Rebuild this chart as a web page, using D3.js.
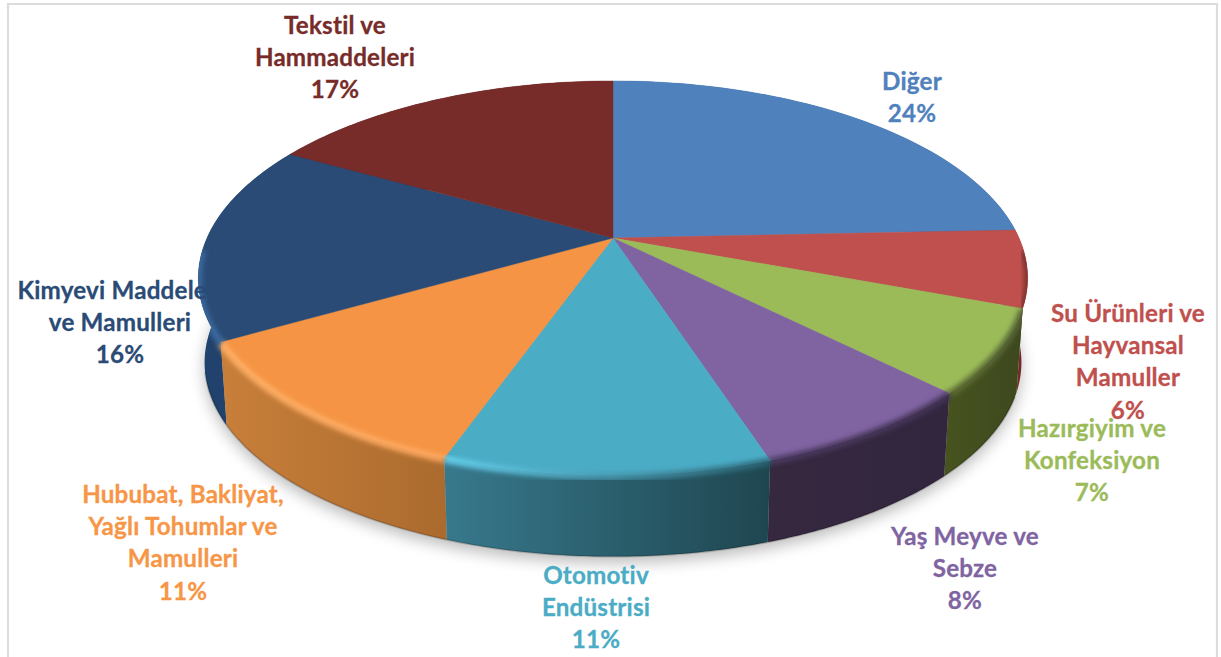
<!DOCTYPE html>
<html><head><meta charset="utf-8">
<script src="https://cdn.jsdelivr.net/npm/d3@7"></script>
<style>html,body{margin:0;padding:0;background:#fff;overflow:hidden}svg{display:block}
text{font-family:Lato,"Open Sans",sans-serif;font-weight:700;font-size:24.2px;letter-spacing:.2px;stroke-width:.3px}</style>
</head><body><svg id="c" width="1221" height="657"></svg>
<script>
const categories = ["Diğer","Su Ürünleri ve Hayvansal Mamuller","Hazırgiyim ve Konfeksiyon","Yaş Meyve ve Sebze","Otomotiv Endüstrisi","Hububat, Bakliyat, Yağlı Tohumlar ve Mamulleri","Kimyevi Maddeler ve Mamulleri","Tekstil ve Hammaddeleri"];
const shares = [24.3,6.3,6.8,7.5,10.5,11.3,16.3,16.9];
const labelLines = [["Diğer"],["Su Ürünleri ve","Hayvansal","Mamuller"],["Hazırgiyim ve","Konfeksiyon"],["Yaş Meyve ve","Sebze"],["Otomotiv","Endüstrisi"],["Hububat, Bakliyat,","Yağlı Tohumlar ve","Mamulleri"],["Kimyevi Maddeleri","ve Mamulleri"],["Tekstil ve","Hammaddeleri"]];

// styling and layout, kept apart from the data
const topColors  = ["#4f81bd","#c0504d","#9bbb59","#8064a2","#4bacc6","#f59444","#2a4b75","#772c2a"];
const textColors = ["#4f81bd","#c0504d","#9bbb59","#8064a2","#4bacc6","#f79646","#2a4b75","#772c2a"];
const wallFrom   = ["#3a5f8c","#7e2f2c","#46531f","#35283f","#37798c","#c87f3a","#21426c","#5a201e"];
const wallTo     = ["#3a5f8c","#6e2725","#3d481e","#32263f","#1f4650","#ab6b2e","#21426c","#5a201e"];
const rimFrom    = ["#4f81bd","#7a302e","#5f6f33","#4b3a61","#66d2f0","#ffb066","#3a6aa0","#772c2a"];
const rimTo      = ["#4f81bd","#7a302e","#59683a","#453558","#2b6474","#ffa860","#3a6aa0","#772c2a"];
const labelX = [912,1128,1092,965,596,183,120,335];
const labelY = [90,322,437,545,584,503,299,34];
const lineGap = 32.2;

const cx=613, cy=238, a=406, b=189, k=0.203, depth=85, shrink=0.015;
const W=1221, H=657;
const sx = d3.scaleLinear().domain([-1,1]).range([cx-a,cx+a]);
const sy = d3.scaleLinear().domain([-1,1]).range([cy-b,cy+b]);
function project(theta,d){
  const u=Math.sin(theta), v=-Math.cos(theta), den=1-k*v, f=1-shrink*d;
  return [cx+(sx(u)-cx)/den*f, cy+(sy(v)-cy)/den*f+depth*d];
}
const svg=d3.select("#c");
const defs=svg.append("defs");
const blur=(id,s)=>defs.append("filter").attr("id",id).attr("x","-20%").attr("y","-20%").attr("width","140%").attr("height","140%").append("feGaussianBlur").attr("stdDeviation",s);
blur("blur8",8); blur("blur3",2.6);

const line=d3.line();
const arcs=d3.pie().value(d=>d).sort(null).startAngle(0).endAngle(2*Math.PI)(shares);
const arcPts=(s,e,d)=>d3.range(0,61).map(i=>project(s+(e-s)*i/60,d));
const wallPath=d=>line(arcPts(d.startAngle,d.endAngle,0).concat(arcPts(d.startAngle,d.endAngle,1).reverse()))+"Z";
const facePath=d=>line([[cx,cy]].concat(arcPts(d.startAngle,d.endAngle,0)))+"Z";

// frame
svg.append("path").attr("d",line([[8,H],[8,4],[1217,4],[1217,H]])).attr("fill","none").attr("stroke","#dcdcdc").attr("stroke-width",2.2);

// soft shadow under the disc
svg.append("path").attr("filter","url(#blur8)").attr("fill","#000").attr("opacity",.28)
  .attr("d",line(arcPts(0,2*Math.PI,1).map(p=>[p[0],p[1]+6]))+"Z");

// gradients
arcs.forEach((d,i)=>{
  const p0=project(d.startAngle,0), p1=project(d.endAngle,0);
  const x1=Math.min(p0[0],p1[0]), x2=Math.max(p0[0],p1[0]);
  const w=defs.append("linearGradient").attr("id","w"+i).attr("gradientUnits","userSpaceOnUse").attr("x1",x1).attr("x2",x2).attr("y1",0).attr("y2",0);
  w.append("stop").attr("offset",0).attr("stop-color",wallFrom[i]);
  w.append("stop").attr("offset",1).attr("stop-color",wallTo[i]);
  const r=defs.append("linearGradient").attr("id","r"+i).attr("gradientUnits","userSpaceOnUse").attr("x1",x1).attr("x2",x2).attr("y1",0).attr("y2",0);
  r.append("stop").attr("offset",0).attr("stop-color",rimFrom[i]);
  r.append("stop").attr("offset",1).attr("stop-color",rimTo[i]);
});

// clip: the disc and its wall, so the blurred bevel never leaves the solid
const clip=defs.append("clipPath").attr("id","solid");
arcs.forEach(d=>{clip.append("path").attr("d",wallPath(d));clip.append("path").attr("d",facePath(d));});

// walls, back to front
const order=arcs.slice().sort((p,q)=>Math.cos((q.startAngle+q.endAngle)/2)-Math.cos((p.startAngle+p.endAngle)/2));
svg.append("g").selectAll("path").data(order).join("path")
  .attr("d",wallPath).attr("fill",d=>`url(#w${d.index})`);

// darkening at the foot of the wall
svg.append("path").attr("fill","none").attr("stroke","#000").attr("stroke-opacity",.18).attr("stroke-width",2)
  .attr("d",line(arcPts(Math.PI*.62,Math.PI*1.42,1)));

// top faces
svg.append("g").selectAll("path").data(arcs).join("path")
  .attr("d",facePath).attr("fill",d=>topColors[d.index]).attr("stroke",d=>topColors[d.index]).attr("stroke-width",.4);

// bevel along the front rim only
const rims=svg.append("g").attr("clip-path","url(#solid)");
arcs.forEach((d,i)=>{
  const s=Math.max(d.startAngle,Math.PI*.52), e=Math.min(d.endAngle,Math.PI*1.48);
  if(e<=s) return;
  rims.append("path").attr("d",line(arcPts(s,e,0).map(p=>[p[0],p[1]+1])))
    .attr("fill","none").attr("stroke",`url(#r${i})`).attr("stroke-width",7).attr("filter","url(#blur3)");
});

// labels
const labelG=svg.append("g");
arcs.forEach((d,i)=>{
  const t=labelG.append("text").attr("text-anchor","middle").attr("fill",textColors[i]).attr("stroke",textColors[i]);
  labelLines[i].concat([Math.round(d.data)+"%"]).forEach((s,j)=>{
    t.append("tspan").attr("x",labelX[i]).attr("y",labelY[i]+j*lineGap).text(s);
  });
});
</script></body></html>
